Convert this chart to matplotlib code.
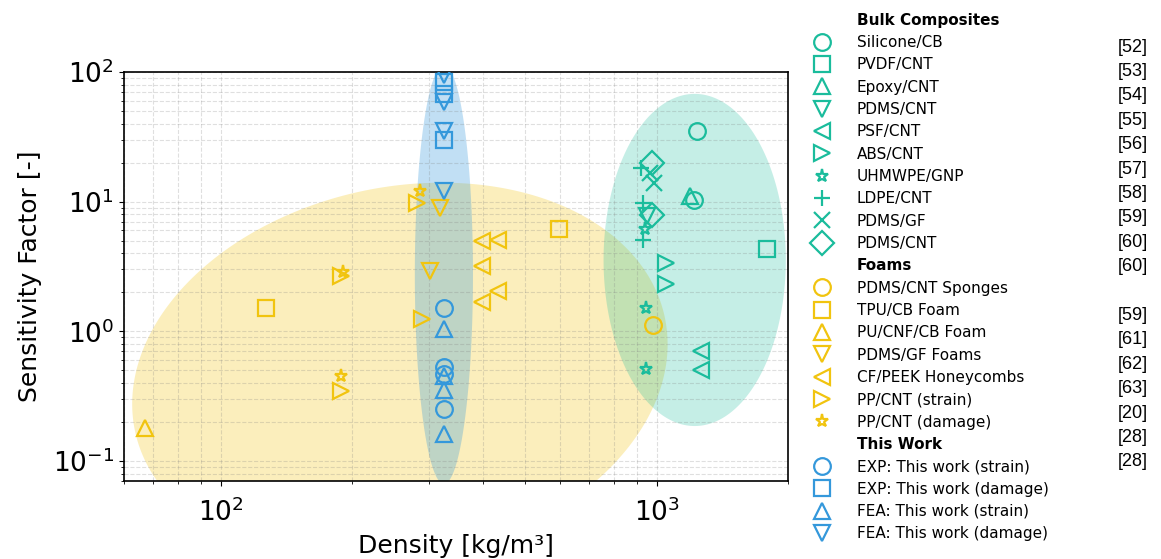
import matplotlib
matplotlib.use("Agg")
import matplotlib.pyplot as plt
import numpy as np
from matplotlib.lines import Line2D

TEAL = "#1abc9c"
YELLOW = "#f1c40f"
BLUE = "#3498db"

# Bulk composites
silicone_cb_x = [1236, 1219]
silicone_cb_y = [35.0, 10.3]
pvdf_cnt_x = [1791]
pvdf_cnt_y = [4.35]
epoxy_cnt_x = [1192]
epoxy_cnt_y = [11.0]
pdms_cnt_x = [952]
pdms_cnt_y = [7.7]
psf_cnt_x = [1262, 1262]
psf_cnt_y = [0.70, 0.50]
abs_cnt_x = [1049, 1049]
abs_cnt_y = [3.37, 2.30]
uhmwpe_gnp_x = [944, 944, 940]
uhmwpe_gnp_y = [1.50, 0.51, 6.2]
ldpe_cnt_x = [918, 931, 931]
ldpe_cnt_y = [18.2, 9.8, 5.1]
pdms_gf_x = [965, 985]
pdms_gf_y = [16.5, 14.0]
pdms_cnt2_x = [974, 975]
pdms_cnt2_y = [19.9, 7.9]

# Foams
sponge_x = [980]
sponge_y = [1.11]
tpu_cb_x = [127, 598]
tpu_cb_y = [1.50, 6.1]
pu_cnf_x = [67]
pu_cnf_y = [0.18]
pdms_gf_foam_x = [318, 302]
pdms_gf_foam_y = [9.0, 2.94]
cf_peek_x = [397, 433, 397, 433, 397]
cf_peek_y = [4.95, 5.1, 3.18, 2.04, 1.67]
pp_strain_x = [189, 189, 282, 289]
pp_strain_y = [2.65, 0.345, 9.8, 1.24]
pp_damage_x = [191, 189, 287]
pp_damage_y = [2.89, 0.45, 12.0]

# This work
exp_strain_x = [325, 325, 325, 325]
exp_strain_y = [1.5, 0.53, 0.47, 0.25]
exp_damage_x = [325, 325, 325]
exp_damage_y = [83, 68, 30]
fea_strain_x = [325, 325, 325, 325]
fea_strain_y = [1.05, 0.45, 0.35, 0.16]
fea_damage_x = [325, 325, 325, 325]
fea_damage_y = [95, 59, 35, 12]

groups = [
    ("Bulk Composites", TEAL, [
        ("Silicone/CB", "o", silicone_cb_x, silicone_cb_y),
        ("PVDF/CNT", "s", pvdf_cnt_x, pvdf_cnt_y),
        ("Epoxy/CNT", "^", epoxy_cnt_x, epoxy_cnt_y),
        ("PDMS/CNT", "v", pdms_cnt_x, pdms_cnt_y),
        ("PSF/CNT", "<", psf_cnt_x, psf_cnt_y),
        ("ABS/CNT", ">", abs_cnt_x, abs_cnt_y),
        ("UHMWPE/GNP", "*", uhmwpe_gnp_x, uhmwpe_gnp_y),
        ("LDPE/CNT", "+", ldpe_cnt_x, ldpe_cnt_y),
        ("PDMS/GF", "x", pdms_gf_x, pdms_gf_y),
        ("PDMS/CNT", "D", pdms_cnt2_x, pdms_cnt2_y),
    ]),
    ("Foams", YELLOW, [
        ("PDMS/CNT Sponges", "o", sponge_x, sponge_y),
        ("TPU/CB Foam", "s", tpu_cb_x, tpu_cb_y),
        ("PU/CNF/CB Foam", "^", pu_cnf_x, pu_cnf_y),
        ("PDMS/GF Foams", "v", pdms_gf_foam_x, pdms_gf_foam_y),
        ("CF/PEEK Honeycombs", "<", cf_peek_x, cf_peek_y),
        ("PP/CNT (strain)", ">", pp_strain_x, pp_strain_y),
        ("PP/CNT (damage)", "*", pp_damage_x, pp_damage_y),
    ]),
    ("This Work", BLUE, [
        ("EXP: This work (strain)", "o", exp_strain_x, exp_strain_y),
        ("EXP: This work (damage)", "s", exp_damage_x, exp_damage_y),
        ("FEA: This work (strain)", "^", fea_strain_x, fea_strain_y),
        ("FEA: This work (damage)", "v", fea_damage_x, fea_damage_y),
    ]),
]

refs = ["[52]", "[53]", "[54]", "[55]", "[56]", "[57]", "[58]", "[59]", "[60]",
        "[60]", "", "[59]", "[61]", "[62]", "[63]", "[20]", "[28]", "[28]"]

# ellipses in log space: centre x, centre y, half-width (decades), half-height (decades), correlation
ellipses = [
    (YELLOW, 0.28, 257.6, 0.467, 0.614, 1.477, 0.156),
    (BLUE, 0.30, 325, 2.74, 0.0667, 1.615, 0.0),
    (TEAL, 0.25, 1222, 3.55, 0.209, 1.281, 0.0),
]


def log_ellipse(ax, x0, y0, sx, sy, rho, color, alpha):
    t = np.linspace(0, 2 * np.pi, 300)
    lx = np.log10(x0) + sx * np.cos(t)
    ly = np.log10(y0) + sy * (rho * np.cos(t) + np.sqrt(1 - rho ** 2) * np.sin(t))
    ax.fill(10 ** lx, 10 ** ly, color=color, alpha=alpha, lw=0, zorder=0)


fig = plt.figure(figsize=(11.61, 5.59), dpi=100)
ax = fig.add_axes([0.1068, 0.1395, 0.5719, 0.7317])

for color, alpha, x0, y0, sx, sy, rho in ellipses:
    log_ellipse(ax, x0, y0, sx, sy, rho, color, alpha)

handles = []
for header, color, items in groups:
    handles.append(Line2D([], [], linestyle="none", label=header))
    for name, marker, xs, ys in items:
        ms = 9.5 if marker == "*" else 12
        ax.plot(xs, ys, linestyle="none", marker=marker, ms=ms, mfc="none",
                mec=color, mew=1.6, zorder=3)
        handles.append(Line2D([], [], linestyle="none", marker=marker, ms=ms,
                              mfc="none", mec=color, mew=1.6, label=name))

ax.set_xscale("log")
ax.set_yscale("log")
ax.set_xlim(60, 2000)
ax.set_ylim(0.07, 100)
ax.grid(True, which="both", linestyle="--", color="gray", alpha=0.25)
ax.tick_params(labelsize=19)
ax.tick_params(axis="x", pad=9)
ax.set_xlabel("Density [kg/m³]", fontsize=18, labelpad=5)
ax.set_ylabel("Sensitivity Factor [-]", fontsize=18, labelpad=8)
for s in ax.spines.values():
    s.set_linewidth(1.2)

leg = ax.legend(handles=handles, loc="upper left", bbox_to_anchor=(0.6948, 0.9775),
                bbox_transform=fig.transFigure, frameon=False, fontsize=11,
                handlelength=2.0, handletextpad=1.29, labelspacing=0.48,
                borderpad=0, borderaxespad=0)
headers = [g[0] for g in groups]
for txt in leg.get_texts():
    if txt.get_text() in headers:
        txt.set_fontweight("bold")

y_ref = 1 - 47 / 559
for r in refs:
    if r:
        fig.text(1148 / 1161, y_ref, r, ha="right", va="center",
                 fontsize=13, family="Liberation Sans")
    y_ref -= 24.4 / 559

fig.savefig("out.png", dpi=100)
